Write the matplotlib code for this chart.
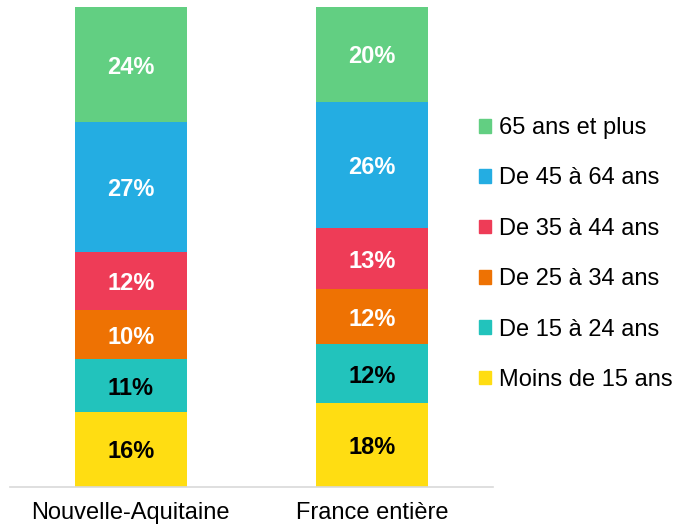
import matplotlib.pyplot as plt
from matplotlib.patches import Patch

plt.rcParams['font.family'] = ['Liberation Sans', 'DejaVu Sans']

regions = ['Nouvelle-Aquitaine', 'France entière']
groups = ['Moins de 15 ans', 'De 15 à 24 ans', 'De 25 à 34 ans',
          'De 35 à 44 ans', 'De 45 à 64 ans', '65 ans et plus']
# share of population (%), bottom to top
nouvelle_aquitaine = [15.6, 11.0, 10.2, 12.1, 27.1, 24.0]
france = [17.4, 12.3, 11.5, 12.7, 26.4, 19.7]
labels_na = ['16%', '11%', '10%', '12%', '27%', '24%']
labels_fr = ['18%', '12%', '12%', '13%', '26%', '20%']

colors = ['#FFDD12', '#22C3BC', '#EE7203', '#EE3C57', '#24ADE2', '#62CF82']
text_colors = ['black', 'black', 'white', 'white', 'white', 'white']

fig = plt.figure(figsize=(6.77, 5.25), dpi=100)
ax = fig.add_axes([10 / 677, 38 / 525, 483 / 677, 480 / 525])

series = [nouvelle_aquitaine, france]
labels = [labels_na, labels_fr]
for i in range(len(regions)):
    bottom = 0
    for j in range(len(groups)):
        v = series[i][j]
        ax.bar(i, v, bottom=bottom, width=0.465, color=colors[j])
        ax.text(i, bottom + v / 2 - 0.5, labels[i][j], ha='center', va='center',
                fontsize=17, fontweight='bold', color=text_colors[j])
        bottom += v

ax.set_xlim(-0.5, 1.5)
ax.set_ylim(0, 100)
ax.set_xticks(range(len(regions)))
ax.set_xticklabels(regions, fontsize=17)
ax.tick_params(axis='x', length=0, pad=11)
ax.set_yticks([])
for s in ['top', 'right', 'left']:
    ax.spines[s].set_visible(False)
ax.spines['bottom'].set_color('#d9d9d9')
ax.spines['bottom'].set_linewidth(1.2)

handles = [Patch(color=colors[j], label=groups[j]) for j in range(len(groups))][::-1]
fig.legend(handles=handles, loc='center left', bbox_to_anchor=(479 / 677, 271 / 525),
           frameon=False, fontsize=17, handlelength=0.5, handleheight=0.5,
           handletextpad=0.35, labelspacing=1.2, borderaxespad=0, borderpad=0)

fig.savefig('out.png', dpi=100)
